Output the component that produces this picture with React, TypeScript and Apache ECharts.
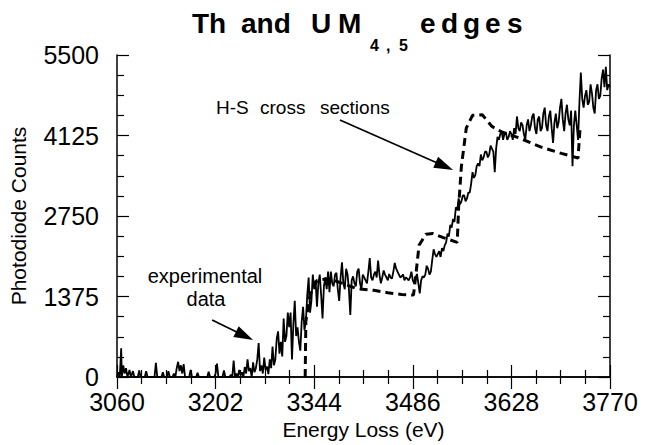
import React, { useEffect, useRef } from "react";
import * as echarts from "echarts";

const X_MIN = 3060;
const X_MAX = 3770;
const X_STEP = 142;
const Y_MIN = 0;
const Y_MAX = 5500;
const Y_STEP = 1375;

const xTitle = "Energy Loss (eV)";
const yTitle = "Photodiode Counts";

// experimental data [energy (eV), photodiode counts]
const experimental: [number, number][] = [
  [3060, 0], [3062, 80], [3064, 0], [3066, 490], [3067, 0], [3069, 200], [3071, 60], [3073, 150], [3075, 0],
  [3078, 120], [3080, 0], [3083, 100], [3085, 0], [3090, 0], [3092, 110], [3094, 0], [3100, 0], [3102, 100],
  [3104, 0], [3114, 0], [3116, 240], [3118, 0], [3124, 0], [3126, 80], [3128, 0], [3132, 0], [3134, 100],
  [3136, 0], [3140, 0], [3142, 60], [3144, 0], [3146, 150], [3148, 260], [3150, 100], [3152, 200], [3154, 60],
  [3156, 220], [3158, 0], [3164, 0], [3166, 120], [3168, 0], [3174, 0], [3176, 70], [3178, 0], [3190, 0],
  [3192, 90], [3194, 0], [3200, 0], [3202, 60], [3204, 230], [3206, 0], [3212, 0], [3214, 110], [3216, 0],
  [3222, 0], [3224, 40], [3226, 0], [3228, 280], [3230, 0], [3232, 60], [3234, 0], [3236, 120], [3238, 30],
  [3240, 80], [3242, 0], [3244, 170], [3246, 60], [3248, 300], [3250, 100], [3252, 150], [3254, 0], [3256, 250],
  [3258, 80], [3260, 150],
  [3262, 300], [3264, 580], [3266, 100], [3268, 200], [3270, 60], [3272, 330], [3274, 120], [3276, 180],
  [3278, 50], [3280, 300], [3282, 150], [3284, 520], [3286, 200], [3288, 300], [3290, 650], [3292, 780],
  [3294, 400], [3296, 600], [3298, 350], [3300, 1000], [3302, 600], [3304, 700], [3306, 1100], [3308, 850],
  [3310, 1100], [3312, 300], [3314, 900], [3316, 1300], [3318, 700], [3320, 850], [3322, 600], [3324, 450],
  [3326, 950], [3328, 1200], [3330, 800], [3332, 950], [3334, 1400], [3336, 1700], [3338, 1100], [3340, 1300],
  [3342, 1750], [3344, 1500], [3346, 1650], [3348, 1200], [3350, 1600], [3352, 1750], [3354, 1400], [3356, 1000],
  [3358, 1550], [3360, 1700], [3362, 1500], [3364, 1800], [3366, 1450], [3368, 1800], [3370, 1600], [3372, 1550],
  [3374, 1750], [3376, 1780], [3378, 1500], [3380, 1300], [3382, 1700], [3384, 1960], [3386, 1600], [3388, 1500],
  [3390, 1850], [3392, 1750], [3394, 1500], [3396, 1060], [3398, 1650], [3400, 1720], [3402, 1600], [3404, 1550],
  [3406, 1800], [3408, 1850], [3410, 1600], [3412, 1500], [3414, 1750], [3416, 1700], [3418, 1650], [3420, 1600],
  [3422, 1800], [3424, 2030], [3426, 1700], [3428, 1650], [3430, 1750], [3432, 1800], [3434, 1700], [3436, 1990],
  [3438, 1750], [3440, 1600], [3442, 1700], [3444, 1820], [3446, 1750], [3448, 1700], [3450, 1650], [3452, 1760],
  [3454, 1700], [3456, 1680], [3458, 1800], [3460, 1950], [3462, 1850], [3464, 1800], [3466, 1750], [3468, 1700],
  [3470, 1720], [3472, 1750], [3474, 1650], [3476, 1700], [3478, 1680], [3480, 1650], [3482, 1700], [3484, 1800],
  [3486, 1650], [3488, 1600], [3490, 1700], [3492, 1760], [3494, 1600], [3496, 1430], [3498, 1650], [3500, 1720],
  [3502, 1700], [3504, 1750], [3506, 1900], [3508, 1850], [3510, 1750], [3512, 1800], [3514, 2000], [3516, 2180],
  [3518, 2100], [3520, 2050],
  [3522, 2100], [3524, 2150], [3526, 2050], [3528, 2200], [3530, 2150], [3532, 2250], [3534, 2300], [3536, 2450],
  [3538, 2400], [3540, 2600], [3542, 2550], [3544, 2700], [3546, 2650], [3548, 2900], [3550, 2850], [3552, 3050],
  [3554, 2950], [3556, 3000], [3558, 3100], [3560, 3100], [3562, 3000], [3564, 3050], [3566, 3150], [3568, 3150],
  [3570, 3300], [3572, 3500], [3574, 3400], [3576, 3450], [3578, 3600], [3580, 3650], [3582, 3600], [3584, 3800],
  [3586, 3700], [3588, 3750], [3590, 3850], [3592, 3850], [3594, 3750], [3596, 3800], [3598, 3950], [3600, 3900],
  [3602, 3850], [3604, 3500], [3606, 3900], [3608, 4100], [3610, 4050], [3612, 4150], [3614, 4200], [3616, 4050],
  [3618, 4150], [3620, 4180],
  [3622, 4050], [3624, 4100], [3626, 4200], [3628, 4150], [3630, 4050], [3632, 4250], [3634, 4150], [3636, 4450],
  [3638, 4250], [3640, 4200], [3642, 4350], [3644, 4300], [3646, 4150], [3648, 4050], [3650, 4300], [3652, 4400],
  [3654, 4200], [3656, 4300], [3658, 4450], [3660, 4500], [3662, 4250], [3664, 4150], [3666, 4400], [3668, 4450],
  [3670, 4200], [3672, 4250], [3674, 4500], [3676, 4600], [3678, 4300], [3680, 4200], [3682, 4450], [3684, 4550],
  [3686, 4250], [3688, 4000], [3690, 4350], [3692, 4500], [3694, 4250], [3696, 4350], [3698, 4600], [3700, 4750],
  [3702, 4400], [3704, 4200], [3706, 4500], [3708, 4650], [3710, 4400], [3712, 4300], [3714, 4550], [3716, 3600],
  [3718, 4300], [3720, 4550], [3722, 4300], [3724, 4050], [3726, 4700], [3728, 5200], [3730, 4750], [3732, 4600],
  [3734, 4800], [3736, 4900], [3738, 4650], [3740, 4700], [3742, 5000], [3744, 4850], [3746, 4600], [3748, 4500],
  [3750, 4900], [3752, 5000], [3754, 4750], [3756, 4800], [3758, 5100], [3760, 5250], [3762, 4950], [3764, 5300],
  [3766, 4900], [3768, 5000], [3770, 4950],
];

// H-S cross sections [energy (eV), photodiode counts]
const hsCross: [number, number][] = [
  [3331, 0], [3332, 950], [3338, 1400], [3348, 1650], [3365, 1680], [3385, 1600], [3405, 1510], [3430, 1480],
  [3450, 1440], [3470, 1410], [3487, 1400], [3490, 1700], [3495, 2250], [3505, 2440], [3515, 2450], [3530, 2380],
  [3550, 2300], [3552, 2900], [3556, 3600], [3563, 4250], [3572, 4470], [3586, 4480], [3600, 4280], [3615, 4180],
  [3640, 4080], [3670, 3930], [3700, 3820], [3724, 3740], [3727, 4270],
];

// annotation arrows: [start, tip] in data coordinates
const arrowHS: [number, number][] = [[3381, 4390], [3544, 3536]];
const arrowExp: [number, number][] = [[3197, 974], [3256, 632]];

const FONT = "'Liberation Sans', Arial, Helvetica, sans-serif";

export default function App() {
  const ref = useRef<HTMLDivElement>(null);

  useEffect(() => {
    document.body.style.margin = "0";
    const chart = echarts.init(ref.current!, undefined, { renderer: "svg" });

    const axisCommon = {
      type: "value" as const,
      axisLine: { show: true, lineStyle: { color: "#000", width: 1.5 } },
      axisTick: { show: true, inside: true, length: 12, lineStyle: { color: "#000", width: 1.2 } },
      minorTick: { show: true, splitNumber: 4, length: 7, lineStyle: { color: "#000", width: 1.2 } },
      splitLine: { show: false },
      minorSplitLine: { show: false },
    };

    chart.setOption({
      animation: false,
      backgroundColor: "#fff",
      grid: { left: 117, right: 37, top: 55, bottom: 68, containLabel: false },
      xAxis: [
        {
          ...axisCommon,
          position: "bottom",
          min: X_MIN,
          max: X_MAX,
          interval: X_STEP,
          name: xTitle,
          nameLocation: "middle",
          nameGap: 37,
          nameTextStyle: { fontFamily: FONT, fontSize: 21, color: "#000" },
          axisLabel: {
            show: true,
            margin: 12,
            fontFamily: FONT,
            fontSize: 25,
            color: "#000",
            formatter: (v: number) => String(v),
          },
        },
        {
          ...axisCommon,
          position: "top",
          min: X_MIN,
          max: X_MAX,
          interval: X_STEP,
          axisLabel: { show: false },
        },
      ],
      yAxis: [
        {
          ...axisCommon,
          position: "left",
          min: Y_MIN,
          max: Y_MAX,
          interval: Y_STEP,
          name: yTitle,
          nameLocation: "middle",
          nameGap: 88,
          nameTextStyle: { fontFamily: FONT, fontSize: 21, color: "#000" },
          axisLabel: {
            show: true,
            margin: 18,
            fontFamily: FONT,
            fontSize: 25,
            color: "#000",
            formatter: (v: number) => String(v),
          },
        },
        {
          ...axisCommon,
          position: "right",
          min: Y_MIN,
          max: Y_MAX,
          interval: Y_STEP,
          axisLabel: { show: false },
        },
      ],
      series: [
        {
          name: "H-S cross sections",
          type: "line",
          data: hsCross,
          showSymbol: false,
          symbol: "none",
          lineStyle: { color: "#000", width: 3, type: [8, 5] },
          z: 2,
        },
        {
          name: "experimental data",
          type: "line",
          data: experimental,
          showSymbol: false,
          symbol: "none",
          lineStyle: { color: "#000", width: 1.8 },
          z: 3,
        },
      ],
    });

    const arrowGraphics = (pts: [number, number][]) => {
      const s = chart.convertToPixel({ gridIndex: 0 }, pts[0]) as number[];
      const t = chart.convertToPixel({ gridIndex: 0 }, pts[1]) as number[];
      const dx = t[0] - s[0];
      const dy = t[1] - s[1];
      const len = Math.sqrt(dx * dx + dy * dy);
      const ux = dx / len;
      const uy = dy / len;
      const nx = -uy;
      const ny = ux;
      const L = 19;
      const W = 12;
      const bx = t[0] - L * ux;
      const by = t[1] - L * uy;
      return [
        {
          type: "line",
          shape: { x1: s[0], y1: s[1], x2: bx + 3 * ux, y2: by + 3 * uy },
          style: { stroke: "#000", lineWidth: 1.7 },
          z: 10,
        },
        {
          type: "polygon",
          shape: {
            points: [
              [t[0], t[1]],
              [bx + (W / 2) * nx, by + (W / 2) * ny],
              [bx - (W / 2) * nx, by - (W / 2) * ny],
            ],
          },
          style: { fill: "#000" },
          z: 10,
        },
      ];
    };

    const txt = (text: string, x: number, y: number, size: number, bold: boolean, align = "left") => ({
      type: "text",
      x,
      y,
      z: 10,
      style: {
        text,
        fill: "#000",
        fontFamily: FONT,
        fontSize: size,
        fontWeight: bold ? "bold" : "normal",
        align,
        verticalAlign: "middle",
      },
    });

    chart.setOption({
      graphic: [
        txt("Th", 192, 23, 28, true),
        txt("and", 241, 23, 28, true),
        txt("U", 311, 23, 28, true),
        txt("M", 338, 23, 28, true),
        txt("4", 370, 45, 16, true),
        txt(",", 386, 45, 16, true),
        txt("5", 399, 45, 16, true),
        txt("e", 420, 23, 28, true),
        txt("d", 441, 23, 28, true),
        txt("g", 463, 23, 28, true),
        txt("e", 485, 23, 28, true),
        txt("s", 507, 23, 28, true),
        txt("H-S", 216, 107, 19, false),
        txt("cross", 260, 107, 19, false),
        txt("sections", 320, 107, 19, false),
        txt("experimental", 205, 276, 20, false, "center"),
        txt("data", 206, 299, 20, false, "center"),
        ...arrowGraphics(arrowHS),
        ...arrowGraphics(arrowExp),
      ],
    });

    return () => {
      chart.dispose();
    };
  }, []);

  return <div ref={ref} style={{ width: 647, height: 445 }} />;
}
